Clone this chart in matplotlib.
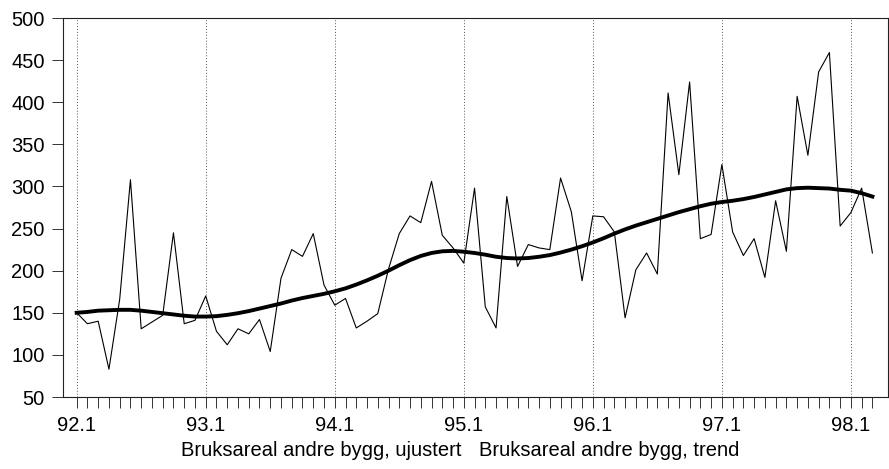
import matplotlib
matplotlib.use("Agg")
import matplotlib.pyplot as plt
import numpy as np

plt.rcParams['font.family'] = ['Liberation Sans', 'DejaVu Sans']

# Monthly data 1992.01 - 1998.03
ujustert = [150, 137, 140, 83, 166, 308, 131, 139, 147, 245, 137, 141,
            170, 128, 112, 131, 125, 142, 104, 191, 225, 217, 244, 183,
            159, 167, 132, 140, 149, 202, 244, 265, 257, 306, 242, 227,
            209, 298, 157, 132, 288, 205, 231, 227, 225, 310, 270, 188,
            265, 264, 246, 144, 201, 221, 196, 411, 314, 424, 238, 243,
            326, 246, 218, 238, 192, 283, 223, 407, 337, 436, 459, 253,
            269, 298, 221]
trend = [150, 151, 152.5, 153, 153.5, 153.5, 152.5, 151, 149.5, 148, 146.5, 145.5,
         145.5, 146, 147.5, 149.5, 152, 155, 158, 161, 164.5, 167.5, 170, 172.5,
         175.5, 179, 183.5, 188.5, 194, 200, 206.5, 212.5, 217.5, 221, 223, 223.5,
         222.5, 221, 219, 216.5, 215, 214.5, 215, 216.5, 218.5, 221.5, 225, 229,
         233.5, 238.5, 244, 249, 253.5, 257.5, 261.5, 265.5, 269.5, 273, 276.5, 279.5,
         281.5, 283, 285, 287.5, 290.5, 293.5, 296.5, 298, 298.5, 298, 297.5, 296,
         295, 292, 288]
year_labels = ['92.1', '93.1', '94.1', '95.1', '96.1', '97.1', '98.1']
y_ticks = [50, 100, 150, 200, 250, 300, 350, 400, 450, 500]
series_names = ['Bruksareal andre bygg, ujustert', 'Bruksareal andre bygg, trend']

x = np.arange(len(ujustert))
year_pos = np.arange(0, len(ujustert), 12)

fig = plt.figure(figsize=(8.89, 4.69), dpi=100)
ax = fig.add_axes([62.7/889, 1-397/469, (888-62.7)/889, (397-18)/469])

ax.plot(x, ujustert, color='black', lw=0.8, label=series_names[0])
ax.plot(x, trend, color='black', lw=2.8, label=series_names[1])

ax.set_xlim(-1.3, 75.45)
ax.set_ylim(50, 500)
ax.set_yticks(y_ticks)
ax.set_xticks(year_pos)
ax.set_xticklabels(year_labels)
ax.set_xticks(x, minor=True)
for p in year_pos:
    ax.axvline(p, color='#555555', lw=0.7, ls=(0, (1, 2)), zorder=0)

ax.tick_params(axis='both', which='both', direction='out', length=8, width=0.7,
               color='#333333', labelsize=14.5)
ax.tick_params(axis='x', which='major', pad=6)
ax.tick_params(axis='y', pad=5)
for s in ax.spines.values():
    s.set_linewidth(0.8)
    s.set_color('#222222')

leg = fig.legend(loc='center', bbox_to_anchor=(460/889, 1-450/469), ncol=2,
                 frameon=False, handlelength=0, handletextpad=0, columnspacing=0.9,
                 fontsize=14.5)
for h in leg.legend_handles:
    h.set_visible(False)

fig.savefig('out.png', dpi=100)
